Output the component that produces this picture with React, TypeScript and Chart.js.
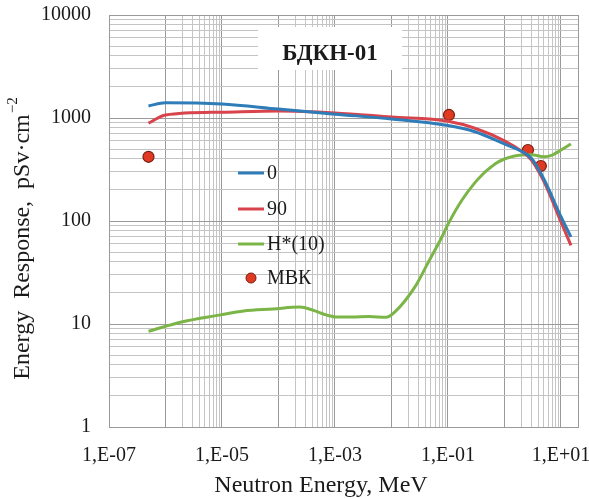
import React, { useEffect, useRef } from 'react';
import { Chart, registerables } from 'chart.js';

Chart.register(...registerables);

// Neutron energy, MeV
const energyCurves = [5e-7, 1e-6, 1e-5, 1e-4, 1e-3, 1e-2, 1e-1, 0.3, 1, 2, 3, 5, 10, 15];
const response0 = [1310, 1410, 1370, 1220, 1090, 980, 845, 736, 560, 475, 406, 254, 110, 70];
const response90 = [890, 1070, 1140, 1170, 1120, 1020, 930, 795, 600, 475, 391, 241, 98, 58];

const energyH10 = [5e-7, 2e-6, 9e-6, 2.4e-5, 8e-5, 2.4e-4, 4.1e-4, 7.2e-4, 1.1e-3, 2e-3, 4e-3, 8e-3, 1.15e-2, 2.6e-2, 4.4e-2, 7.8e-2, 0.1, 0.177, 0.3, 0.4, 0.5, 0.7, 1, 1.5, 2, 3, 5, 7, 10, 15];
const responseH10 = [8.5, 10.5, 12.2, 13.4, 14.0, 14.6, 13.6, 12.2, 11.7, 11.7, 11.8, 11.6, 13.1, 22.9, 39, 70, 93, 160, 236, 280, 313, 362, 400, 428, 437, 440, 421, 437, 489, 560];

const energyMBK = [5e-7, 0.104, 2.6, 4.4];
const responseMBK = [420, 1070, 489, 342];

const seriesNames = ['0', '90', 'H*(10)', 'МВК'];
const xTickLabels: Record<string, string> = { '-7': '1,E-07', '-5': '1,E-05', '-3': '1,E-03', '-1': '1,E-01', '1': '1,E+01' };
const chartTitle = 'БДКН-01';
const xTitle = 'Neutron Energy, MeV';
const yTitle = 'Energy  Response,  pSv·cm';

const SERIF = '"Liberation Serif", "DejaVu Serif", serif';
const BLUE = '#2f7db8';
const RED = '#d8434c';
const GREEN = '#7cb547';
const MAJOR = '#9a9a9a';
const MINOR = '#c4c4c4';

const isDecade = (v: number) => Math.abs(Math.log10(v) - Math.round(Math.log10(v))) < 1e-6;

const decorPlugin = {
  id: 'decor',
  afterDraw(chart: any) {
    const ctx = chart.ctx;
    ctx.save();
    // title box
    ctx.fillStyle = '#ffffff';
    ctx.fillRect(258, 27, 144, 43);
    ctx.fillStyle = '#1a1a1a';
    ctx.font = `bold 23px ${SERIF}`;
    ctx.textAlign = 'center';
    ctx.textBaseline = 'middle';
    ctx.fillText(chartTitle, 330, 54);

    // legend
    const items = [
      { label: seriesNames[0], color: BLUE, y: 173, type: 'line' },
      { label: seriesNames[1], color: RED, y: 209, type: 'line' },
      { label: seriesNames[2], color: GREEN, y: 244, type: 'line' },
      { label: seriesNames[3], color: '#e03a22', y: 278, type: 'point' },
    ];
    ctx.font = `20px ${SERIF}`;
    ctx.textAlign = 'left';
    items.forEach((it) => {
      if (it.type === 'line') {
        ctx.strokeStyle = it.color;
        ctx.lineWidth = 3;
        ctx.beginPath();
        ctx.moveTo(238, it.y);
        ctx.lineTo(264, it.y);
        ctx.stroke();
      } else {
        ctx.fillStyle = it.color;
        ctx.strokeStyle = '#7a1c10';
        ctx.lineWidth = 1;
        ctx.beginPath();
        ctx.arc(251, it.y, 5, 0, Math.PI * 2);
        ctx.fill();
        ctx.stroke();
      }
      ctx.fillStyle = '#1a1a1a';
      ctx.fillText(it.label, 267, it.y + 1);
    });

    // x axis title
    ctx.font = `24px ${SERIF}`;
    ctx.textAlign = 'center';
    ctx.fillText(xTitle, 321, 486);

    // y axis title (rotated)
    ctx.translate(23, 239);
    ctx.rotate(-Math.PI / 2);
    ctx.font = `24px ${SERIF}`;
    const w1 = ctx.measureText(yTitle).width;
    ctx.font = `15px ${SERIF}`;
    const w2 = ctx.measureText('−2').width;
    const start = -(w1 + w2) / 2;
    ctx.textAlign = 'left';
    ctx.font = `24px ${SERIF}`;
    ctx.fillText(yTitle, start, 0);
    ctx.font = `15px ${SERIF}`;
    ctx.fillText('−2', start + w1 + 1, -10);
    ctx.restore();
  },
};

export default function App() {
  const ref = useRef<HTMLCanvasElement>(null);
  useEffect(() => {
    if (!ref.current) return;
    const chart = new Chart(ref.current, {
      type: 'line',
      data: {
        datasets: [
          {
            label: seriesNames[0],
            data: energyCurves.map((x, i) => ({ x, y: response0[i] })),
            borderColor: BLUE,
            borderWidth: 3,
            pointRadius: 0,
            cubicInterpolationMode: 'monotone',
            fill: false,
          },
          {
            label: seriesNames[1],
            data: energyCurves.map((x, i) => ({ x, y: response90[i] })),
            borderColor: RED,
            borderWidth: 3,
            pointRadius: 0,
            cubicInterpolationMode: 'monotone',
            fill: false,
          },
          {
            label: seriesNames[2],
            data: energyH10.map((x, i) => ({ x, y: responseH10[i] })),
            borderColor: GREEN,
            borderWidth: 3,
            pointRadius: 0,
            cubicInterpolationMode: 'monotone',
            fill: false,
          },
          {
            label: seriesNames[3],
            data: energyMBK.map((x, i) => ({ x, y: responseMBK[i] })),
            showLine: false,
            pointRadius: 5.5,
            pointBackgroundColor: '#e03a22',
            pointBorderColor: '#7a1c10',
            pointBorderWidth: 1.2,
          },
        ],
      },
      options: {
        responsive: false,
        animation: false,
        layout: { padding: { left: 0, top: 15, right: 11, bottom: 0 } },
        plugins: { legend: { display: false }, tooltip: { enabled: false } },
        scales: {
          x: {
            type: 'logarithmic',
            min: 1e-7,
            max: 20,
            afterBuildTicks(scale: any) {
              const t: { value: number }[] = [];
              for (let e = -7; e <= 1; e++) {
                t.push({ value: Math.pow(10, e) });
                if (e === -6 || e === -4 || e === -2 || e === 0) {
                  for (let m = 2; m <= 9; m++) t.push({ value: m * Math.pow(10, e) });
                }
              }
              t.push({ value: 20 });
              scale.ticks = t;
            },
            afterFit(scale: any) {
              scale.height = 72;
              scale.paddingLeft = 0;
              scale.paddingRight = 0;
              scale.paddingTop = 0;
              scale.paddingBottom = 0;
            },
            ticks: {
              autoSkip: false,
              maxRotation: 0,
              padding: 17,
              color: '#1a1a1a',
              font: { family: SERIF, size: 20 },
              callback: (v: any) => {
                const val = Number(v);
                if (!isDecade(val)) return '';
                const k = String(Math.round(Math.log10(val)));
                return xTickLabels[k] ?? '';
              },
            },
            grid: {
              drawTicks: false,
              color: (c: any) => (c.tick && (isDecade(c.tick.value) || c.tick.value === 20) ? MAJOR : MINOR),
              lineWidth: 1,
            },
            border: { color: MAJOR, width: 1 },
          },
          y: {
            type: 'logarithmic',
            min: 1,
            max: 10000,
            afterBuildTicks(scale: any) {
              const t: { value: number }[] = [];
              for (let e = 0; e <= 4; e++) {
                t.push({ value: Math.pow(10, e) });
                if (e < 4) for (let m = 2; m <= 9; m++) t.push({ value: m * Math.pow(10, e) });
              }
              scale.ticks = t;
            },
            afterFit(scale: any) {
              scale.width = 109;
              scale.paddingLeft = 0;
              scale.paddingRight = 0;
              scale.paddingTop = 0;
              scale.paddingBottom = 0;
            },
            ticks: {
              autoSkip: false,
              padding: 18,
              color: '#1a1a1a',
              font: { family: SERIF, size: 20 },
              callback: (v: any) => {
                const val = Number(v);
                return isDecade(val) ? String(Math.round(val)) : '';
              },
            },
            grid: {
              drawTicks: false,
              color: (c: any) => (c.tick && isDecade(c.tick.value) ? MAJOR : MINOR),
              lineWidth: 1,
            },
            border: { color: MAJOR, width: 1 },
          },
        },
      },
      plugins: [decorPlugin],
    });
    return () => chart.destroy();
  }, []);

  return (
    <div style={{ position: 'absolute', left: 0, top: 0, width: 589, height: 499, background: '#fff' }}>
      <canvas ref={ref} width={589} height={499} style={{ display: 'block', width: 589, height: 499 }} />
    </div>
  );
}
